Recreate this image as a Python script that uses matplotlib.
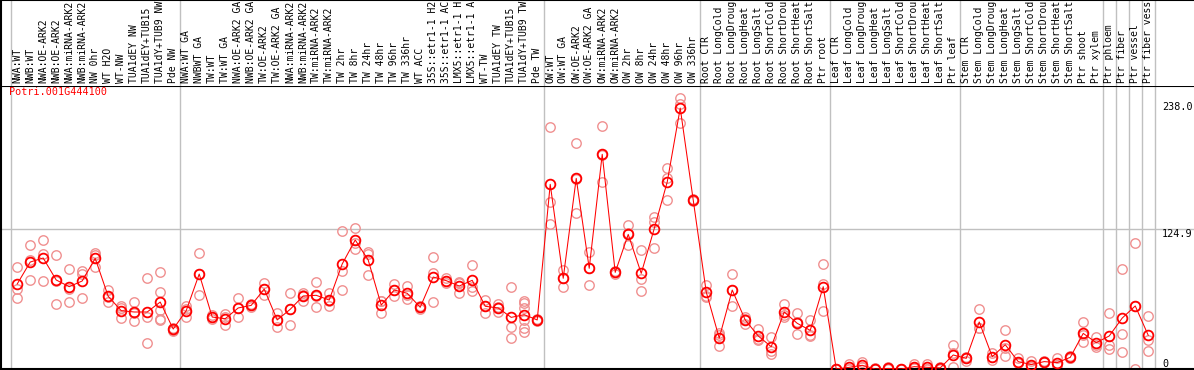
import matplotlib
matplotlib.use("Agg")
import matplotlib.pyplot as plt
import matplotlib.transforms as mtransforms

# ================== DATA ==================
GENE_ID = "Potri.001G444100"

labels = [
    "NWA:WT", "NWB:WT", "NWA:OE-ARK2", "NWB:OE-ARK2", "NWA:miRNA-ARK2", "NWB:miRNA-ARK2",
    "NW 0hr", "WT H2O", "WT-NW", "TUA1dEY NW", "TUA1dEY+TUB15", "TUA1dY+TUB9 NW", "Pde NW",
    "NWA:WT GA", "NWBWT GA", "TW:WT", "TW:WT GA", "NWA:OE-ARK2 GA", "NWB:OE-ARK2 GA",
    "TW:OE-ARK2", "TW:OE-ARK2 GA", "NWA:miRNA-ARK2", "NWB:miRNA-ARK2", "TW:miRNA-ARK2",
    "TW:miRNA-ARK2", "TW 2hr", "TW 8hr", "TW 24hr", "TW 48hr", "TW 96hr", "TW 336hr",
    "WT ACC", "35S::etr1-1 H2", "35S::etr1-1 AC", "LMX5::etr1-1 H", "LMX5::etr1-1 A",
    "WT-TW", "TUA1dEY TW", "TUA1dEY+TUB15", "TUA1dY+TUB9 TW", "Pde TW",
    "OW:WT", "OW:WT GA", "OW:OE-ARK2", "OW:OE-ARK2 GA", "OW:miRNA-ARK2", "OW:miRNA-ARK2",
    "OW 2hr", "OW 8hr", "OW 24hr", "OW 48hr", "OW 96hr", "OW 336hr",
    "Root CTR", "Root LongCold", "Root LongDroug", "Root LongHeat", "Root LongSalt",
    "Root ShortCold", "Root ShortDrou", "Root ShortHeat", "Root ShortSalt", "Ptr root",
    "Leaf CTR", "Leaf LongCold", "Leaf LongDroug", "Leaf LongHeat", "Leaf LongSalt",
    "Leaf ShortCold", "Leaf ShortDrou", "Leaf ShortHeat", "Leaf ShortSalt", "Ptr leaf",
    "Stem CTR", "Stem LongCold", "Stem LongDroug", "Stem LongHeat", "Stem LongSalt",
    "Stem ShortCold", "Stem ShortDrou", "Stem ShortHeat", "Stem ShortSalt", "Ptr shoot",
    "Ptr xylem", "Ptr phloem", "Ptr fiber", "Ptr vessel", "Ptr fiber vess",
]

# group separators sit after these label indices
group_ends = [12, 40, 52, 62, 72, 83, 84, 85, 86, 87]

means = [
    75.9, 95.5, 99.1, 79.5, 73.5, 78.6, 98.8, 64.9, 52.1, 50.9, 50.9, 59.8, 35.7,
    52.1, 84.8, 46.4, 44.9, 54.5, 56.8, 71.4, 43.8, 53.3, 65.2, 65.8, 61.6, 93.8,
    115.2, 97.3, 57.1, 70.5, 67.6, 55.1, 82.1, 78.9, 74.1, 79.2, 56.0, 54.5, 46.1,
    48.5, 43.8,
    164.9, 81.0, 170.2, 89.9, 191.7, 86.3, 120.2, 85.4, 125.3, 167.0, 233.0, 150.9,
    68.8, 27.6, 70.5, 43.8, 29.5, 19.9, 50.9, 40.8, 34.5, 73.5,
    0.0, 1.5, 3.3, 0.0, 0.5, 0.0, 2.1, 1.5, 1.0, 12.5,
    9.5, 42.0, 11.0, 21.7, 6.6, 3.9, 6.6, 5.7, 10.4, 31.8, 23.5,
    29.5, 45.5, 56.3, 30.1,
]

replicates = [
    [90.8, 71.4, 63.1], [110.4, 97.0, 79.2], [114.9, 102.4, 78.6], [101.8, 78.7, 58.0],
    [89.0, 71.1, 59.8], [87.8, 84.5, 63.1], [103.9, 101.4, 91.1], [70.5, 64.7, 59.5],
    [56.3, 54.8, 45.2], [59.8, 50.0, 42.9], [81.0, 46.7, 22.9],
    [86.6, 68.8, 52.7, 44.9, 43.8], [37.0, 35.0, 34.0],
    [56.5, 53.7, 46.1], [103.6, 85.0, 65.8], [48.0, 46.5, 44.5], [48.8, 46.4, 39.6],
    [63.1, 54.3, 46.1], [58.0, 57.0, 55.4], [76.8, 71.6, 65.8], [49.7, 43.9, 37.8],
    [67.6, 53.3, 39.0], [68.2, 66.4, 61.0], [77.4, 65.0, 55.1], [67.9, 61.0, 56.0],
    [123.2, 87.2, 70.5], [125.9, 112.8, 106.9], [104.5, 102.4, 83.6], [61.0, 60.7, 49.7],
    [75.9, 70.7, 64.9], [74.1, 66.2, 62.5], [56.5, 55.0, 53.8], [100.0, 86.0, 59.5],
    [81.0, 79.0, 76.7], [77.6, 77.1, 67.6], [92.6, 73.5, 69.9], [61.6, 56.7, 49.7],
    [57.7, 55.2, 50.6], [72.9, 37.2, 27.7], [61.0, 59.2, 54.2, 43.8, 36.3, 33.3],
    [45.0, 44.0, 42.5],
    [215.8, 149.1, 129.5], [88.4, 81.7, 72.9], [201.5, 170.1, 139.0], [104.8, 90.3, 74.7],
    [216.7, 191.0, 167.3], [87.5, 86.5, 85.0], [128.3, 121.4, 111.0], [106.0, 80.7, 69.4],
    [136.0, 131.5, 107.7], [179.2, 170.3, 150.9], [241.7, 236.3, 219.9], [152.0, 151.0, 150.0],
    [75.0, 65.2, 64.0], [31.8, 30.8, 20.5], [84.8, 70.5, 56.3], [46.1, 45.0, 40.2],
    [36.0, 26.6, 25.9], [28.3, 16.1, 13.4], [57.7, 48.3, 46.7], [49.7, 41.7, 31.0],
    [43.8, 30.4, 29.4], [93.5, 75.6, 51.8],
    [0.0, 0.0, 0.0], [4.2, 0.3, 0.0], [6.3, 2.0, 1.5], [0.5, 0.0, 0.0], [2.1, 0.5, 0.0],
    [0.3, 0.0, 0.0], [4.8, 1.0, 0.5], [4.2, 0.3, 0.0], [2.1, 0.5, 0.3], [21.7, 14.0, 1.5],
    [11.0, 10.0, 7.5], [53.3, 36.4, 36.3], [14.0, 11.0, 8.0], [34.8, 19.0, 11.3],
    [9.5, 5.2, 5.0], [7.4, 2.3, 2.0], [7.0, 6.5, 6.0], [10.1, 3.5, 3.3], [11.5, 10.0, 9.7],
    [41.7, 30.0, 23.8], [28.9, 21.7, 19.9],
    [49.7, 21.4, 17.9], [89.0, 31.0, 14.9], [112.2, 56.5, 0.0], [47.0, 25.9, 16.1],
]

y_ticks = [238.0, 124.9, 0]
grid_value = 124.9

# ================== STYLE ==================
W, H = 1194, 370
MONO = "DejaVu Sans Mono"
FS = 7
GRID_GRAY = "#c0c0c0"
REP_COLOR = "#f09090"
XLIM = (-1.246, 90.52)
YLIM = (0, 252.7)

fig = plt.figure(figsize=(W / 100, H / 100), dpi=100)

# main plotting area (pixel rows 86..369)
ax = fig.add_axes([1 / W, 1 / H, (W - 1) / W, 283 / H])
# label strip above (pixel rows 0..86)
lab = fig.add_axes([1 / W, 284 / H, (W - 1) / W, 86 / H])

for a in (ax, lab):
    a.set_xlim(*XLIM)
    a.set_xticks([])
    a.set_yticks([])
    for s in a.spines.values():
        s.set_linewidth(1.5)
        s.set_color("black")
    a.spines["right"].set_visible(False)
    # group separators
    a.axvline(-0.5, color=GRID_GRAY, lw=1, zorder=0)
    for g in group_ends:
        a.axvline(g + 0.5, color=GRID_GRAY, lw=1, zorder=0)

lab.spines["bottom"].set_visible(False)
lab.set_ylim(0, 86)

ax.set_ylim(*YLIM)
ax.axhline(grid_value, color=GRID_GRAY, lw=1, zorder=0)

# rotated sample labels
for i, name in enumerate(labels):
    lab.text(i, 3, name, rotation=90, ha="center", va="bottom",
             family=MONO, fontsize=FS, color="black", clip_on=True)

# replicates
xs = list(range(len(means)))
for i, reps in enumerate(replicates):
    ax.plot([i] * len(reps), reps, linestyle="none", marker="o", ms=6.8,
            mfc="none", mec=REP_COLOR, mew=1.0, zorder=2)

# mean line + markers
ax.plot(xs, means, color="red", lw=0.75, zorder=3)
ax.plot(xs, means, linestyle="none", marker="o", ms=7, mfc="none",
        mec="red", mew=1.3, zorder=4)

# right-hand value labels
trans = mtransforms.blended_transform_factory(ax.transAxes, ax.transData)
for v in y_ticks:
    txt = f"{v:.1f}" if v else "0"
    ax.text(1162 / W, v, txt, transform=trans, ha="left",
            va="top" if v else "bottom", family=MONO, fontsize=FS + 0.3)

fig.text(9 / W, 1 - 87 / H, GENE_ID, color="red", family=MONO,
         fontsize=FS + 0.3, ha="left", va="top")

fig.savefig("out.png", dpi=100)
